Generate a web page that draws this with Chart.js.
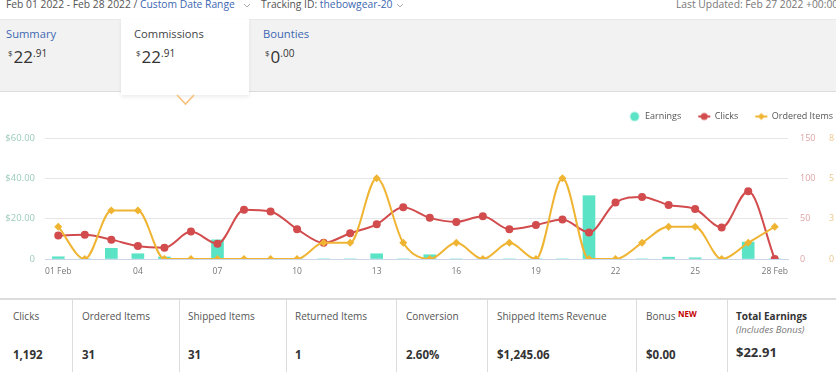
<!DOCTYPE html>
<html>
<head>
<meta charset="utf-8">
<script src="https://cdn.jsdelivr.net/npm/chart.js@4/dist/chart.umd.min.js"></script>
<style>
  html,body{margin:0;padding:0;background:#fff;}
  body{width:836px;height:372px;overflow:hidden;position:relative;font-family:"Open Sans",sans-serif;}
  .abs{position:absolute;white-space:nowrap;line-height:1;}
  .blue{color:#3d67b1;}
  #band{position:absolute;left:0;top:19px;width:836px;height:71px;background:#f2f2f2;border-top:1px solid #e8e8e8;border-bottom:1px solid #dcdcdc;}
  #tab{position:absolute;left:121px;top:19px;width:128px;height:76px;background:#fff;box-shadow:0 2px 4px rgba(0,0,0,0.08);}
  .title{font-size:11.2px;}
  .amt{font-size:17px;color:#333;}
  .amt .cur{font-size:8px;position:relative;top:-7px;margin-right:1px;}
  .amt .dec{font-size:10px;position:relative;top:-6px;}
  #chartWrap{position:absolute;left:0;top:95px;width:836px;height:190px;overflow:hidden;}
  #tbl{position:absolute;left:0;top:298px;width:836px;height:74px;border-top:2px solid #dcdcdc;}
  .vb{position:absolute;top:300px;height:72px;width:1px;background:#dcdcdc;}
  .lab{font-size:10px;color:#555;}
  .val{font-size:11.5px;font-weight:bold;color:#333;}
  .hdr{font-size:10.3px;top:-1px;}
</style>
</head>
<body>
<div class="abs hdr" style="left:6px;color:#555;">Feb 01 2022 - Feb 28 2022 / <span class="blue">Custom Date Range</span></div>
<svg class="abs" style="left:243px;top:3px" width="8" height="6"><polyline points="1,1 4,4 7,1" fill="none" stroke="#aaa" stroke-width="1"/></svg>
<div class="abs hdr" style="left:261px;color:#555;">Tracking ID: <span class="blue">thebowgear-20</span></div>
<svg class="abs" style="left:396px;top:3px" width="8" height="6"><polyline points="1,1 4,4 7,1" fill="none" stroke="#aaa" stroke-width="1"/></svg>
<div class="abs hdr" style="left:676px;color:#777;">Last Updated: Feb 27 2022 +00:00</div>

<div id="band"></div>
<div id="tab"></div>
<svg class="abs" style="left:175px;top:93px" width="22" height="14"><polyline points="2,2 10.5,11 19,2" fill="none" stroke="#f6c17a" stroke-width="1.6"/></svg>

<div class="abs title blue" style="left:6px;top:28px;">Summary</div>
<div class="abs amt" style="left:8px;top:48px;"><span class="cur">$</span>22<span class="dec">.91</span></div>
<div class="abs title" style="left:134px;top:28px;color:#444;">Commissions</div>
<div class="abs amt" style="left:136px;top:48px;"><span class="cur">$</span>22<span class="dec">.91</span></div>
<div class="abs title blue" style="left:263px;top:28px;">Bounties</div>
<div class="abs amt" style="left:265px;top:48px;"><span class="cur">$</span>0<span class="dec">.00</span></div>

<div id="chartWrap"><canvas id="c" width="850" height="190" style="width:850px;height:190px;"></canvas></div>

<div id="tbl"></div>
<div class="vb" style="left:72px"></div>
<div class="vb" style="left:179px"></div>
<div class="vb" style="left:286px"></div>
<div class="vb" style="left:396px"></div>
<div class="vb" style="left:487px"></div>
<div class="vb" style="left:636px"></div>
<div class="vb" style="left:727px"></div>

<div class="abs lab" style="left:13px;top:311px;">Clicks</div>
<div class="abs lab" style="left:82px;top:311px;">Ordered Items</div>
<div class="abs lab" style="left:188px;top:311px;">Shipped Items</div>
<div class="abs lab" style="left:295px;top:311px;">Returned Items</div>
<div class="abs lab" style="left:406px;top:311px;">Conversion</div>
<div class="abs lab" style="left:497px;top:311px;">Shipped Items Revenue</div>
<div class="abs lab" style="left:646px;top:311px;">Bonus <span style="color:#c40000;font-weight:bold;font-size:8px;position:relative;top:-3px;">NEW</span></div>
<div class="abs lab" style="left:736px;top:311px;font-weight:bold;color:#333;">Total Earnings</div>
<div class="abs" style="left:736px;top:325px;font-size:9.5px;font-style:italic;color:#777;">(Includes Bonus)</div>

<div class="abs val" style="left:13px;top:349px;">1,192</div>
<div class="abs val" style="left:82px;top:349px;">31</div>
<div class="abs val" style="left:188px;top:349px;">31</div>
<div class="abs val" style="left:295px;top:349px;">1</div>
<div class="abs val" style="left:406px;top:349px;">2.60%</div>
<div class="abs val" style="left:497px;top:349px;">$1,245.06</div>
<div class="abs val" style="left:646px;top:349px;">$0.00</div>
<div class="abs val" style="left:736px;top:346px;font-size:13px;">$22.91</div>

<script>
// ---- data ----
const days = ['01 Feb','02 Feb','03 Feb','04 Feb','05 Feb','06 Feb','07 Feb','08 Feb','09 Feb','10 Feb',
  '11 Feb','12 Feb','13 Feb','14 Feb','15 Feb','16 Feb','17 Feb','18 Feb','19 Feb','20 Feb',
  '21 Feb','22 Feb','23 Feb','24 Feb','25 Feb','26 Feb','27 Feb','28 Feb'];
const xTickLabels = ['01 Feb','04','07','10','13','16','19','22','25','28 Feb'];
const earnings = [1.1,0,5.3,2.6,1.0,0,9.5,0,0,0,0,0,2.6,0,2.1,0,0,0,0,0,31.4,0,0,0.9,0.6,0,8.4,0];
const clicks = [29,30,24,16,14,34,19,61,59,37,20,32,43,64,51,46,53,37,42,49,33,70,77,67,62,39,84,0];
const orderedItems = [2,0,3,3,0,0,0,0,0,0,1,1,5,1,0,1,0,1,0,5,0,0,1,2,2,0,1,2];
const earningsTicks = ['0','$20.00','$40.00','$60.00'];
const clicksTicks = ['0','50','100','150'];
const orderedTicks = ['0','3','5','8'];

const TEAL = '#5be3c5', RED = '#d24b4d', ORANGE = '#f0b433';
const FONT = 'Open Sans';

function icon(kind){
  const cv = document.createElement('canvas');
  cv.width = 14; cv.height = 12;
  const g = cv.getContext('2d');
  if (kind === 'circle') {
    g.fillStyle = TEAL; g.beginPath(); g.arc(7,6,4.5,0,Math.PI*2); g.fill();
  } else if (kind === 'clicks') {
    g.strokeStyle = RED; g.lineWidth = 2; g.beginPath(); g.moveTo(1,6); g.lineTo(13,6); g.stroke();
    g.fillStyle = RED; g.beginPath(); g.arc(7,6,3.5,0,Math.PI*2); g.fill();
  } else {
    g.strokeStyle = ORANGE; g.lineWidth = 2; g.beginPath(); g.moveTo(1,6); g.lineTo(13,6); g.stroke();
    g.fillStyle = ORANGE; g.beginPath(); g.moveTo(7,2.5); g.lineTo(10.5,6); g.lineTo(7,9.5); g.lineTo(3.5,6); g.closePath(); g.fill();
  }
  return cv;
}
const icons = [icon('circle'), icon('clicks'), icon('ordered')];

const legendHeight = {
  id: 'legendHeight',
  beforeInit(chart){
    const orig = chart.legend.fit;
    chart.legend.fit = function(){ orig.call(this); this.height = 43; };
  }
};

new Chart(document.getElementById('c'), {
  type: 'bar',
  data: {
    labels: days,
    datasets: [
      { type:'bar', label:'Earnings', data: earnings, yAxisID:'y', backgroundColor: TEAL, barThickness: 12, order: 3 },
      { type:'line', label:'Clicks', data: clicks, yAxisID:'y1', borderColor: RED, backgroundColor: RED,
        borderWidth: 2, pointRadius: 4, pointBorderWidth: 0, pointStyle:'circle', cubicInterpolationMode: 'monotone', order: 2 },
      { type:'line', label:'Ordered Items', data: orderedItems, yAxisID:'y2', borderColor: ORANGE, backgroundColor: ORANGE,
        borderWidth: 2, pointRadius: 4, pointBorderWidth: 0, pointStyle:'rectRot', cubicInterpolationMode: 'monotone', order: 1 }
    ]
  },
  options: {
    responsive: false, animation: false, devicePixelRatio: 1,
    layout: { padding: 0 },
    plugins: {
      tooltip: { enabled: false },
      legend: {
        position: 'top', align: 'end',
        labels: {
          usePointStyle: true, pointStyleWidth: 12, padding: 17, color: '#555',
          font: { family: FONT, size: 9 },
          sort: (a,b) => a.datasetIndex - b.datasetIndex,
          generateLabels(chart){
            const items = Chart.defaults.plugins.legend.labels.generateLabels(chart);
            items.forEach(it => { it.pointStyle = icons[it.datasetIndex]; });
            return items;
          }
        }
      }
    },
    scales: {
      x: {
        offset: true,
        grid: { display: false, drawTicks: false },
        border: { display: true, color: '#ccd6eb' },
        ticks: { autoSkip: false, maxRotation: 0, padding: 7, color: '#777', font: { family: FONT, size: 8.5 },
          callback: (v, i) => (i % 3 === 0 ? xTickLabels[i / 3] : '') },
        afterFit: s => { s.height = 26; }
      },
      y: {
        position: 'left', min: 0, max: 60,
        grid: { drawTicks: false, color: c => (c.tick && c.tick.value === 0 ? '#ccd6eb' : '#e6e6e6') },
        border: { display: false },
        ticks: { stepSize: 20, padding: 10, color: '#9ccbbb', font: { family: FONT, size: 9.5 },
          callback: (v, i) => earningsTicks[i] },
        afterFit: s => { s.width = 45; }
      },
      y1: {
        position: 'right', min: 0, max: 150,
        grid: { display: false, drawTicks: false }, border: { display: false },
        ticks: { stepSize: 50, padding: 12, color: '#dea3a3', font: { family: FONT, size: 9 },
          callback: (v, i) => clicksTicks[i] },
        afterFit: s => { s.width = 29; }
      },
      y2: {
        position: 'right', min: 0, max: 7.5,
        grid: { display: false, drawTicks: false }, border: { display: false },
        ticks: { stepSize: 2.5, padding: 12, color: '#ecc88e', font: { family: FONT, size: 9 },
          callback: (v, i) => orderedTicks[i] },
        afterFit: s => { s.width = 33; }
      }
    }
  },
  plugins: [legendHeight]
});
</script>
</body>
</html>
